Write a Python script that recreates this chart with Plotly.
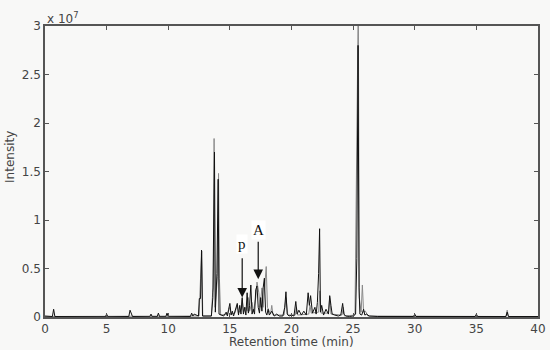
import plotly.graph_objects as go

# Retention time (min) and intensity (units of 1e7 counts)
black_time = [0, 0.6, 0.7, 0.8, 4.9, 5.0, 5.1, 6.8, 6.9, 7.0, 7.1, 8.5, 8.6, 8.7,
              9.1, 9.2, 9.3, 9.8, 9.9, 10.0, 11.8, 11.9, 12.0, 12.1, 12.45, 12.52,
              12.62, 12.7, 12.78, 13.5, 13.62, 13.75, 13.82, 13.95, 14.05, 14.12,
              14.3, 14.5, 14.7, 14.8, 14.9, 15.0, 15.1, 15.2, 15.3, 15.5, 15.6, 15.7,
              15.8, 15.9, 16.0, 16.1, 16.2, 16.3, 16.4, 16.5, 16.6, 16.7, 16.8, 16.9,
              17.0, 17.1, 17.2, 17.3, 17.4, 17.5, 17.6, 17.7, 17.8, 17.9, 18.0, 18.1,
              18.2, 18.4, 18.6, 18.8, 19.0, 19.3, 19.45, 19.55, 19.65, 19.8, 20.0,
              20.2, 20.35, 20.45, 20.6, 20.8, 21.0, 21.2, 21.35, 21.45, 21.55, 21.7,
              21.9, 22.0, 22.1, 22.2, 22.28, 22.35, 22.45, 22.6, 22.8, 23.0, 23.1,
              23.2, 23.3, 23.5, 23.8, 24.0, 24.15, 24.25, 24.4, 24.7, 25.0, 25.2,
              25.3, 25.4, 25.48, 25.55, 25.7, 25.85, 25.95, 26.1, 26.3, 27.0, 29.9,
              30.0, 30.1, 34.9, 35.0, 35.1, 37.4, 37.5, 37.6, 40.0]
black_intensity = [0.01, 0.005, 0.08, 0.005, 0.003, 0.03, 0.003, 0.005, 0.07, 0.04,
                   0.005, 0.003, 0.03, 0.003, 0.003, 0.04, 0.003, 0.003, 0.04, 0.003,
                   0.005, 0.04, 0.01, 0.03, 0.01, 0.19, 0.19, 0.69, 0.01, 0.01, 0.2,
                   1.7, 0.05, 0.45, 1.42, 0.03, 0.02, 0.01, 0.05, 0.01, 0.08, 0.14,
                   0.02, 0.06, 0.01, 0.1, 0.14, 0.02, 0.12, 0.03, 0.2, 0.03, 0.1, 0.02,
                   0.25, 0.04, 0.12, 0.33, 0.03, 0.08, 0.03, 0.28, 0.32, 0.1, 0.04, 0.2,
                   0.06, 0.3, 0.4, 0.05, 0.02, 0.08, 0.02, 0.06, 0.01, 0.03, 0.01, 0.01,
                   0.1, 0.26, 0.03, 0.01, 0.02, 0.01, 0.16, 0.03, 0.07, 0.02, 0.06, 0.02,
                   0.25, 0.12, 0.22, 0.04, 0.1, 0.03, 0.15, 0.45, 0.91, 0.05, 0.12, 0.02,
                   0.08, 0.03, 0.22, 0.12, 0.03, 0.02, 0.01, 0.02, 0.14, 0.03, 0.01,
                   0.005, 0.01, 0.03, 0.6, 2.8, 0.3, 0.03, 0.02, 0.08, 0.02, 0.03, 0.01,
                   0.005, 0.005, 0.03, 0.005, 0.005, 0.03, 0.005, 0.005, 0.05, 0.005,
                   0.005]

gray_time = [0, 12.5, 12.62, 12.72, 12.8, 13.5, 13.6, 13.66, 13.72, 13.8, 14.0, 14.08,
             14.15, 14.25, 14.8, 15.0, 15.1, 15.4, 15.6, 15.7, 15.9, 16.0, 16.1, 16.3,
             16.4, 16.5, 16.6, 16.8, 16.9, 17.1, 17.2, 17.35, 17.45, 17.6, 17.7, 17.95,
             18.05, 18.3, 18.4, 18.5, 19.4, 19.55, 19.7, 20.3, 20.4, 20.5, 21.4, 21.5,
             21.6, 22.2, 22.3, 22.4, 23.0, 23.1, 23.2, 24.1, 24.2, 24.3, 25.15, 25.25,
             25.35, 25.42, 25.5, 25.65, 25.75, 25.85, 26.0, 26.2, 37.4, 37.5, 37.6, 40.0]
gray_intensity = [0.005, 0.01, 0.4, 0.68, 0.01, 0.01, 0.25, 0.3, 1.84, 0.1, 0.42, 1.48,
                  0.4, 0.02, 0.03, 0.1, 0.03, 0.04, 0.12, 0.04, 0.08, 0.18, 0.05, 0.1,
                  0.06, 0.2, 0.06, 0.15, 0.05, 0.2, 0.36, 0.25, 0.1, 0.3, 0.1, 0.52,
                  0.1, 0.03, 0.12, 0.02, 0.02, 0.2, 0.02, 0.02, 0.1, 0.02, 0.03, 0.12,
                  0.04, 0.05, 0.27, 0.04, 0.04, 0.2, 0.03, 0.02, 0.1, 0.01, 0.02, 1.2,
                  2.85, 3.3, 0.2, 0.05, 0.33, 0.05, 0.06, 0.01, 0.005, 0.07, 0.005, 0.005]

x_ticks = [0, 5, 10, 15, 20, 25, 30, 35, 40]
y_ticks = [0, 0.5, 1, 1.5, 2, 2.5, 3]
y_tick_labels = ["0", "0.5", "1", "1.5", "2", "2.5", "3"]

# Arrow markers: label, time, arrow tail, arrow tip, label height
marker_labels = ["p", "A"]
marker_times = [16.0, 17.3]
marker_tails = [0.62, 0.79]
marker_tips = [0.2, 0.39]
marker_text_y = [0.75, 0.9]

FONT = "DejaVu Sans"
AXIS_COLOR = "#555555"
TEXT_COLOR = "#444444"
BG = "#f8f8f7"

fig = go.Figure()
fig.add_trace(go.Scatter(x=gray_time, y=gray_intensity, mode="lines",
                         line=dict(color="#8a8a8a", width=1), showlegend=False))
fig.add_trace(go.Scatter(x=black_time, y=black_intensity, mode="lines",
                         line=dict(color="#111111", width=1), showlegend=False))

for lab, t, tail, tip, ty in zip(marker_labels, marker_times, marker_tails,
                                 marker_tips, marker_text_y):
    fig.add_annotation(x=t, y=tip, ax=t, ay=tail, xref="x", yref="y",
                       axref="x", ayref="y", text="", showarrow=True,
                       arrowhead=2, arrowsize=1.6, arrowwidth=1.2,
                       arrowcolor="#111111")
    fig.add_annotation(x=t, y=ty, xref="x", yref="y", text=lab, showarrow=False,
                       font=dict(family="Liberation Serif", size=15, color="#111111"),
                       bgcolor="white")

fig.add_annotation(x=0, y=1, xref="paper", yref="paper", xanchor="left",
                   yanchor="bottom", text="x 10<sup>7</sup>", showarrow=False,
                   font=dict(family=FONT, size=12, color=TEXT_COLOR), yshift=-2)
fig.add_annotation(x=0.5, y=-0.086, xref="paper", yref="paper", xanchor="center",
                   yanchor="middle", text="Retention time (min)", showarrow=False,
                   font=dict(family=FONT, size=12, color=TEXT_COLOR))
fig.add_annotation(x=-0.071, y=0.55, xref="paper", yref="paper", xanchor="center",
                   yanchor="middle", text="Intensity", textangle=-90, showarrow=False,
                   font=dict(family=FONT, size=12, color=TEXT_COLOR))

fig.update_xaxes(range=[0, 40], tickvals=x_ticks, ticks="inside", ticklen=4,
                 tickcolor=AXIS_COLOR, showline=True, linecolor=AXIS_COLOR,
                 linewidth=1.5, mirror="ticks", showgrid=False, zeroline=False,
                 automargin=False,
                 tickfont=dict(family=FONT, size=12, color=TEXT_COLOR))
fig.update_yaxes(range=[0, 3], tickvals=y_ticks, ticktext=y_tick_labels,
                 ticks="inside", ticklen=4, tickcolor=AXIS_COLOR, showline=True,
                 linecolor=AXIS_COLOR, linewidth=1.5, mirror="ticks",
                 showgrid=False, zeroline=False, automargin=False,
                 tickfont=dict(family=FONT, size=12, color=TEXT_COLOR))

fig.update_layout(width=550, height=350, margin=dict(l=45, r=12, t=26, b=33),
                  paper_bgcolor=BG, plot_bgcolor=BG, showlegend=False)

# Remove the browser's default 8 px page margin so the figure fills the window
fig.write_html("out.html", config={"displayModeBar": False},
               post_script="document.body.style.margin='0';"
                           "document.body.style.overflow='hidden';")
